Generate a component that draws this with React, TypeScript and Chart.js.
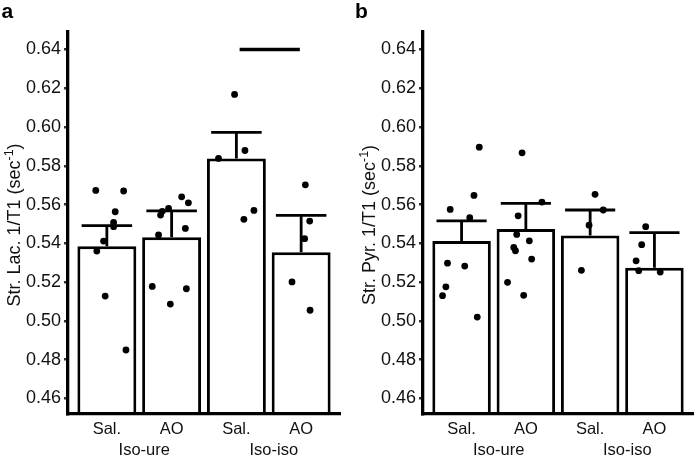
import React, { useEffect, useRef } from "react";
import { Chart, registerables } from "chart.js";

Chart.register(...registerables);

const FONT = '"Liberation Sans", Arial, Helvetica, sans-serif';
const TEXT = "#111";

// ---- shared axis data ----
const categoryLabels = ["Sal.", "AO", "Sal.", "AO"];
const groupLabels = ["Iso-ure", "Iso-iso"];
const groupCenters = [1.5, 3.5];
const yTicks = [0.46, 0.48, 0.5, 0.52, 0.54, 0.56, 0.58, 0.6, 0.62, 0.64];
const yMin = 0.452;
const yMax = 0.649;

// ---- panel a: striatal lactate ----
const lacMeans = [0.5385, 0.5432, 0.5838, 0.5354];
const lacSem = [0.0106, 0.0136, 0.0134, 0.019];
const lacSalUreY = [0.5673, 0.567, 0.5563, 0.5508, 0.5486, 0.5412, 0.536, 0.5128, 0.485];
const lacSalUreJit = [-0.171, 0.259, 0.129, 0.104, 0.104, -0.051, -0.155, -0.026, 0.295];
const lacAoUreY = [0.564, 0.5609, 0.558, 0.5565, 0.5546, 0.5477, 0.5443, 0.5178, 0.5166, 0.5087];
const lacAoUreJit = [0.155, 0.259, -0.047, -0.144, -0.171, 0.212, -0.202, -0.299, 0.228, -0.02];
const lacSalIsoY = [0.6168, 0.5879, 0.5838, 0.557, 0.5524];
const lacSalIsoJit = [-0.028, 0.132, -0.276, 0.271, 0.116];
const lacAoIsoY = [0.5702, 0.5515, 0.5424, 0.5201, 0.5055];
const lacAoIsoJit = [0.065, 0.132, 0.054, -0.141, 0.138];
const lacSigFrom = 3.05;
const lacSigTo = 3.98;
const lacSigY = 0.64;

// ---- panel b: striatal pyruvate ----
const pyrMeans = [0.5412, 0.5474, 0.5441, 0.5274];
const pyrSem = [0.0104, 0.0132, 0.0131, 0.0181];
const pyrSalUreY = [0.5896, 0.5647, 0.5575, 0.5532, 0.5298, 0.5283, 0.5176, 0.513, 0.502];
const pyrSalUreJit = [0.275, 0.193, -0.177, 0.127, -0.219, 0.049, -0.244, -0.296, 0.244];
const pyrAoUreY = [0.5867, 0.5613, 0.5542, 0.5446, 0.5413, 0.5379, 0.5362, 0.5319, 0.5199, 0.5132];
const pyrAoUreJit = [-0.059, 0.25, -0.12, -0.142, 0.054, -0.188, -0.162, 0.09, -0.285, -0.034];
const pyrSalIsoY = [0.5653, 0.5572, 0.5494, 0.5261];
const pyrSalIsoJit = [0.076, 0.204, -0.017, -0.136];
const pyrAoIsoY = [0.5486, 0.5393, 0.531, 0.5259, 0.5252];
const pyrAoIsoJit = [-0.136, -0.198, -0.285, -0.244, 0.09];

type Pt = { x: number; y: number };

function toPoints(groups: number[][], jitters: number[][]): Pt[] {
  const out: Pt[] = [];
  groups.forEach((ys, gi) => {
    ys.forEach((y, j) => out.push({ x: gi + 1 + jitters[gi][j], y }));
  });
  return out;
}

interface PanelProps {
  letter: string;
  titleMain: string;
  means: number[];
  sems: number[];
  points: Pt[];
  sig?: { from: number; to: number; y: number } | null;
  left: number;
  width: number;
  axisWidth: number;
  padRight: number;
  letterX: number;
}

function Panel(props: PanelProps) {
  const ref = useRef<HTMLCanvasElement | null>(null);
  useEffect(() => {
    const canvas = ref.current;
    if (!canvas) return;
    const { means, sems, points, sig, axisWidth, padRight, letter, letterX, titleMain } = props;

    const decor = {
      id: "decor",
      afterDatasetDraw(chart: any, args: any) {
        if (args.index !== 0) return;
        const ctx = chart.ctx;
        const xs = chart.scales.x;
        const ys = chart.scales.y;
        const catPx = xs.getPixelForValue(2) - xs.getPixelForValue(1);
        const half = catPx * 0.39;
        ctx.save();
        ctx.strokeStyle = "#000";
        ctx.lineWidth = 2.8;
        ctx.lineCap = "butt";
        means.forEach((m, i) => {
          const cx = xs.getPixelForValue(i + 1);
          const y0 = ys.getPixelForValue(m);
          const y1 = ys.getPixelForValue(m + sems[i]);
          ctx.beginPath();
          ctx.moveTo(cx, y0);
          ctx.lineTo(cx, y1);
          ctx.moveTo(cx - half, y1);
          ctx.lineTo(cx + half, y1);
          ctx.stroke();
        });
        ctx.restore();
      },
      afterDraw(chart: any) {
        const ctx = chart.ctx;
        const xs = chart.scales.x;
        const area = chart.chartArea;
        ctx.save();
        ctx.fillStyle = TEXT;
        // group labels
        ctx.font = `16.5px ${FONT}`;
        ctx.textAlign = "center";
        ctx.textBaseline = "alphabetic";
        groupLabels.forEach((g, i) => {
          ctx.fillText(g, xs.getPixelForValue(groupCenters[i]) + 5, area.bottom + 41);
        });
        // panel letter
        ctx.font = `bold 21px ${FONT}`;
        ctx.textAlign = "left";
        ctx.fillStyle = "#000";
        ctx.fillText(letter, letterX, 18);
        // y title with superscript
        ctx.fillStyle = TEXT;
        const mainFont = `18px ${FONT}`;
        const supFont = `12.5px ${FONT}`;
        ctx.font = mainFont;
        const w1 = ctx.measureText(titleMain).width;
        const w3 = ctx.measureText(")").width;
        ctx.font = supFont;
        const w2 = ctx.measureText("-1").width;
        const total = w1 + w2 + w3;
        ctx.translate(area.left - 48, (area.top + area.bottom) / 2 + 2);
        ctx.rotate(-Math.PI / 2);
        const sx = -total / 2;
        ctx.textAlign = "left";
        ctx.font = mainFont;
        ctx.fillText(titleMain, sx, 0);
        ctx.font = supFont;
        ctx.fillText("-1", sx + w1, -7.5);
        ctx.font = mainFont;
        ctx.fillText(")", sx + w1 + w2, 0);
        ctx.restore();
      },
    };

    const datasets: any[] = [
      {
        type: "bar",
        data: means.map((m, i) => ({ x: i + 1, y: m })),
        backgroundColor: "#fff",
        borderColor: "#000",
        borderWidth: 3,
        barPercentage: 0.91,
        categoryPercentage: 1,
        order: 3,
      },
    ];
    if (sig) {
      datasets.push({
        type: "line",
        data: [
          { x: sig.from, y: sig.y },
          { x: sig.to, y: sig.y },
        ],
        borderColor: "#000",
        borderWidth: 3.5,
        pointRadius: 0,
        fill: false,
        order: 2,
      });
    }
    datasets.push({
      type: "scatter",
      data: points,
      pointRadius: 3.4,
      pointBackgroundColor: "#000",
      pointBorderWidth: 0,
      backgroundColor: "#000",
      borderColor: "#000",
      order: 1,
    });

    const chart = new Chart(canvas, {
      type: "bar",
      data: { datasets },
      options: {
        responsive: false,
        animation: false,
        devicePixelRatio: 1,
        layout: { padding: { top: 32, right: padRight, left: 0, bottom: 0 } },
        plugins: { legend: { display: false }, tooltip: { enabled: false } },
        scales: {
          x: {
            type: "linear",
            min: 0.4,
            max: 4.6,
            offset: false,
            bounds: "data",
            grace: 0,
            afterBuildTicks: (s: any) => {
              s.ticks = categoryLabels.map((_, i) => ({ value: i + 1 }));
            },
            afterFit: (s: any) => {
              s.height = 43;
              s.paddingLeft = 0;
              s.paddingRight = 0;
            },
            ticks: {
              callback: (_v: any, i: number) => categoryLabels[i],
              font: { family: FONT, size: 16.5 },
              color: TEXT,
              padding: 6,
              maxRotation: 0,
              autoSkip: false,
            },
            grid: { display: false, drawTicks: false, offset: false },
            border: { display: true, color: "#000", width: 3.3, z: 1 },
          },
          y: {
            type: "linear",
            min: yMin,
            max: yMax,
            afterBuildTicks: (s: any) => {
              s.ticks = yTicks.map((v) => ({ value: v }));
            },
            afterFit: (s: any) => {
              s.width = axisWidth;
            },
            ticks: {
              callback: (v: any) => Number(v).toFixed(2),
              font: { family: FONT, size: 18 },
              color: TEXT,
              padding: 3,
            },
            grid: { drawOnChartArea: false, drawTicks: true, tickLength: 4, color: "#333", lineWidth: 2.5 },
            border: { display: true, color: "#000", width: 3.3, z: 1 },
          },
        },
      } as any,
      plugins: [decor],
    } as any);
    return () => chart.destroy();
  }, []);
  return (
    <div style={{ position: "absolute", left: props.left, top: 0, width: props.width, height: 457 }}>
      <canvas ref={ref} width={props.width} height={457} style={{ display: "block" }} />
    </div>
  );
}

export default function App() {
  const lacPoints = toPoints(
    [lacSalUreY, lacAoUreY, lacSalIsoY, lacAoIsoY],
    [lacSalUreJit, lacAoUreJit, lacSalIsoJit, lacAoIsoJit]
  );
  const pyrPoints = toPoints(
    [pyrSalUreY, pyrAoUreY, pyrSalIsoY, pyrAoIsoY],
    [pyrSalUreJit, pyrAoUreJit, pyrSalIsoJit, pyrAoIsoJit]
  );
  return (
    <div style={{ position: "fixed", left: 0, top: 0, width: 697, height: 457, background: "#fff", overflow: "hidden" }}>
      <Panel
        letter="a"
        titleMain="Str. Lac. 1/T1 (sec"
        means={lacMeans}
        sems={lacSem}
        points={lacPoints}
        sig={{ from: lacSigFrom, to: lacSigTo, y: lacSigY }}
        left={0}
        width={348}
        axisWidth={68}
        padRight={8}
        letterX={1.5}
      />
      <Panel
        letter="b"
        titleMain="Str. Pyr. 1/T1 (sec"
        means={pyrMeans}
        sems={pyrSem}
        points={pyrPoints}
        sig={null}
        left={348}
        width={349}
        axisWidth={75}
        padRight={2}
        letterX={7}
      />
    </div>
  );
}
